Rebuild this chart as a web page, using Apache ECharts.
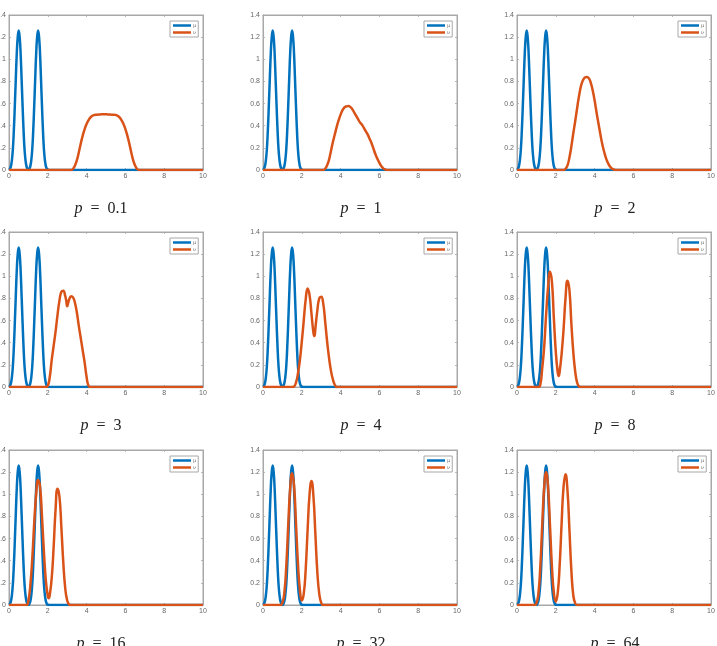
<!DOCTYPE html>
<html>
<head>
<meta charset="utf-8">
<script src="https://cdn.jsdelivr.net/npm/echarts@6/dist/echarts.min.js"></script>
<style>
html, body { margin: 0; padding: 0; background: #fff; }
#main { width: 717px; height: 646px; }
</style>
</head>
<body>
<div id="main"></div>
<script>
// p value shown under each panel
const pLabels = ['0.1', '1', '2', '3', '4', '8', '16', '32', '64'];

// mu is the same in every panel: two bumps at 0.5 and 1.5
const muCurve = [
  [0, 0], [0.05, 0.01], [0.1, 0.035], [0.15, 0.09], [0.2, 0.19], [0.25, 0.36], [0.3, 0.58],
  [0.35, 0.82], [0.4, 1.05], [0.45, 1.2], [0.5, 1.26], [0.55, 1.2], [0.6, 1.05], [0.65, 0.82],
  [0.7, 0.58], [0.75, 0.36], [0.8, 0.19], [0.85, 0.09], [0.9, 0.035], [0.95, 0.01], [1.0, 0],
  [1.05, 0.01], [1.1, 0.035], [1.15, 0.09], [1.2, 0.19], [1.25, 0.36], [1.3, 0.58], [1.35, 0.82],
  [1.4, 1.05], [1.45, 1.2], [1.5, 1.26], [1.55, 1.2], [1.6, 1.05], [1.65, 0.82], [1.7, 0.58],
  [1.75, 0.36], [1.8, 0.19], [1.85, 0.09], [1.9, 0.035], [1.95, 0.01], [2.0, 0], [2.1, 0], [10, 0]
];

// nu for each p
const nuP01 = [
  [0, 0], [3.1, 0], [3.2, 0], [3.3, 0.01], [3.4, 0.04], [3.5, 0.09], [3.6, 0.16], [3.7, 0.24],
  [3.8, 0.31], [3.9, 0.37], [4.0, 0.415], [4.1, 0.45], [4.2, 0.475], [4.3, 0.49], [4.4, 0.497],
  [4.5, 0.5], [4.7, 0.502], [4.9, 0.503], [5.1, 0.502], [5.3, 0.5], [5.4, 0.5], [5.5, 0.497],
  [5.6, 0.49], [5.7, 0.475], [5.8, 0.45], [5.9, 0.415], [6.0, 0.37], [6.1, 0.31], [6.2, 0.24],
  [6.3, 0.16], [6.4, 0.09], [6.5, 0.04], [6.6, 0.01], [6.7, 0], [6.8, 0], [10, 0]
];
const nuP1 = [
  [0, 0], [3.0, 0], [3.1, 0], [3.2, 0.01], [3.3, 0.04], [3.4, 0.09], [3.5, 0.17], [3.6, 0.25],
  [3.7, 0.32], [3.8, 0.39], [3.9, 0.45], [4.0, 0.5], [4.1, 0.54], [4.2, 0.565], [4.3, 0.575],
  [4.4, 0.578], [4.5, 0.57], [4.6, 0.55], [4.7, 0.52], [4.8, 0.49], [4.9, 0.46], [5.0, 0.43],
  [5.1, 0.41], [5.2, 0.38], [5.3, 0.35], [5.4, 0.32], [5.5, 0.28], [5.6, 0.24], [5.7, 0.19],
  [5.8, 0.14], [5.9, 0.1], [6.0, 0.065], [6.1, 0.035], [6.2, 0.015], [6.3, 0.005], [6.4, 0],
  [6.5, 0], [10, 0]
];
const nuP2 = [
  [0, 0], [2.3, 0], [2.4, 0], [2.5, 0.01], [2.6, 0.04], [2.7, 0.11], [2.8, 0.21], [2.9, 0.33],
  [3.0, 0.44], [3.1, 0.56], [3.2, 0.67], [3.3, 0.76], [3.4, 0.81], [3.5, 0.835], [3.6, 0.84],
  [3.7, 0.83], [3.8, 0.79], [3.9, 0.72], [4.0, 0.63], [4.1, 0.52], [4.2, 0.42], [4.3, 0.32],
  [4.4, 0.23], [4.5, 0.16], [4.6, 0.1], [4.7, 0.06], [4.8, 0.03], [4.9, 0.012], [5.0, 0.004],
  [5.1, 0], [5.2, 0], [10, 0]
];
const nuP3 = [
  [0, 0], [1.8, 0], [1.9, 0], [2.0, 0.01], [2.1, 0.09], [2.2, 0.24], [2.3, 0.37], [2.4, 0.5],
  [2.5, 0.65], [2.6, 0.78], [2.7, 0.86], [2.8, 0.87], [2.9, 0.82], [2.95, 0.78], [3.0, 0.73],
  [3.05, 0.76], [3.1, 0.79], [3.2, 0.82], [3.3, 0.81], [3.4, 0.76], [3.5, 0.67], [3.6, 0.55],
  [3.7, 0.44], [3.8, 0.33], [3.9, 0.22], [4.0, 0.09], [4.1, 0.01], [4.2, 0], [4.3, 0], [10, 0]
];
const nuP4 = [
  [0, 0], [1.4, 0], [1.5, 0], [1.6, 0.005], [1.7, 0.04], [1.8, 0.12], [1.9, 0.24], [2.0, 0.41],
  [2.1, 0.6], [2.2, 0.79], [2.3, 0.89], [2.4, 0.83], [2.5, 0.66], [2.6, 0.49], [2.65, 0.46],
  [2.7, 0.53], [2.8, 0.69], [2.9, 0.8], [3.0, 0.815], [3.1, 0.76], [3.2, 0.6], [3.3, 0.42],
  [3.4, 0.27], [3.5, 0.15], [3.6, 0.07], [3.7, 0.02], [3.8, 0], [3.9, 0], [10, 0]
];
const nuP8 = [
  [0, 0], [1.0, 0], [1.1, 0], [1.2, 0.02], [1.3, 0.17], [1.4, 0.36], [1.5, 0.65], [1.6, 0.9],
  [1.7, 1.04], [1.8, 0.95], [1.9, 0.62], [2.0, 0.32], [2.1, 0.13], [2.15, 0.1], [2.2, 0.14],
  [2.3, 0.3], [2.4, 0.52], [2.5, 0.8], [2.6, 0.96], [2.7, 0.88], [2.8, 0.58], [2.9, 0.32],
  [3.0, 0.14], [3.1, 0.04], [3.2, 0.005], [3.3, 0], [3.4, 0], [10, 0]
];
const nuP16 = [
  [0, 0], [0.8, 0], [0.9, 0], [1.0, 0.04], [1.1, 0.18], [1.2, 0.42], [1.3, 0.74], [1.4, 1.0],
  [1.5, 1.13], [1.6, 1.07], [1.7, 0.8], [1.8, 0.48], [1.9, 0.22], [2.0, 0.08], [2.05, 0.06],
  [2.1, 0.09], [2.2, 0.24], [2.3, 0.52], [2.4, 0.86], [2.5, 1.05], [2.6, 0.98], [2.7, 0.7],
  [2.8, 0.38], [2.9, 0.15], [3.0, 0.04], [3.1, 0.005], [3.2, 0], [3.3, 0], [10, 0]
];
const nuP32 = [
  [0, 0], [0.8, 0], [0.9, 0], [1.0, 0.02], [1.1, 0.11], [1.2, 0.35], [1.3, 0.72], [1.4, 1.05],
  [1.5, 1.19], [1.6, 1.08], [1.7, 0.74], [1.8, 0.38], [1.9, 0.14], [2.0, 0.04], [2.1, 0.1],
  [2.2, 0.32], [2.3, 0.68], [2.4, 1.0], [2.5, 1.12], [2.6, 0.98], [2.7, 0.64], [2.8, 0.3],
  [2.9, 0.1], [3.0, 0.02], [3.1, 0], [3.2, 0], [10, 0]
];
const nuP64 = [
  [0, 0], [0.8, 0], [0.9, 0], [1.0, 0.015], [1.1, 0.1], [1.2, 0.34], [1.3, 0.72], [1.4, 1.06],
  [1.5, 1.2], [1.6, 1.07], [1.7, 0.72], [1.8, 0.35], [1.9, 0.11], [2.0, 0.03], [2.1, 0.11],
  [2.2, 0.36], [2.3, 0.74], [2.4, 1.07], [2.5, 1.18], [2.6, 1.04], [2.7, 0.69], [2.8, 0.32],
  [2.9, 0.09], [3.0, 0.015], [3.1, 0], [3.2, 0], [10, 0]
];
const nuCurves = [nuP01, nuP1, nuP2, nuP3, nuP4, nuP8, nuP16, nuP32, nuP64];

const blue = '#0072BD';
const orange = '#D95319';
const boxColor = '#a8a8a8';
const labelColor = '#666';

// panel layout (px)
const colLeft = [9, 263, 517];
const rowTop = [15, 232, 450];
const plotW = 194, plotH = 155;
const titleX = [101, 361, 615];

let grids = [], xAxes = [], yAxes = [], series = [], legends = [], texts = [];

for (let i = 0; i < 9; i++) {
  let col = i % 3, row = Math.floor(i / 3);
  let left = colLeft[col], top = rowTop[row];
  grids.push({
    left: left, top: top, width: plotW, height: plotH,
    show: true, borderColor: boxColor, borderWidth: 1, backgroundColor: '#fff',
    containLabel: false, outerBoundsMode: 'none'
  });
  let tick = { show: true, inside: true, length: 2, lineStyle: { color: boxColor, width: 0.8 } };
  let line = { show: true, onZero: false, lineStyle: { color: boxColor, width: 1 } };
  xAxes.push({
    gridIndex: i, type: 'value', min: 0, max: 10, interval: 2, position: 'bottom',
    axisLine: line, axisTick: tick, splitLine: { show: false },
    axisLabel: { fontSize: 7, color: labelColor, margin: 3, fontFamily: 'Liberation Sans' }
  });
  xAxes.push({
    gridIndex: i, type: 'value', min: 0, max: 10, interval: 2, position: 'top',
    axisLine: line, axisTick: tick, splitLine: { show: false }, axisLabel: { show: false }
  });
  yAxes.push({
    gridIndex: i, type: 'value', min: 0, max: 1.4, interval: 0.2, position: 'left',
    axisLine: line, axisTick: tick, splitLine: { show: false },
    axisLabel: { fontSize: 7, color: labelColor, margin: 3, fontFamily: 'Liberation Sans' }
  });
  yAxes.push({
    gridIndex: i, type: 'value', min: 0, max: 1.4, interval: 0.2, position: 'right',
    axisLine: line, axisTick: tick, splitLine: { show: false }, axisLabel: { show: false }
  });

  series.push({
    name: 'μ', type: 'line', xAxisIndex: 2 * i, yAxisIndex: 2 * i,
    data: muCurve, smooth: 0.5, symbol: 'none', z: 2,
    lineStyle: { color: blue, width: 2.5 }, itemStyle: { color: blue }
  });
  series.push({
    name: 'ν', type: 'line', xAxisIndex: 2 * i, yAxisIndex: 2 * i,
    data: nuCurves[i], smooth: 0.5, symbol: 'none', z: 3,
    lineStyle: { color: orange, width: 2.5 }, itemStyle: { color: orange }
  });

  legends.push({
    data: ['μ', 'ν'], orient: 'vertical', selectedMode: false,
    left: left + 161, top: top + 6,
    icon: 'rect', itemWidth: 18, itemHeight: 2.5, itemGap: 2,
    padding: [2, 2, 2, 3],
    backgroundColor: '#fff', borderColor: boxColor, borderWidth: 1, borderRadius: 0,
    textStyle: { fontSize: 5, color: labelColor, fontFamily: 'DejaVu Serif', padding: [0, 0, 0, -3] }
  });

  texts.push({
    type: 'text', x: titleX[col], y: top + plotH + 39,
    style: {
      text: '{i|p}\u2002=\u2002' + pLabels[i],
      font: '16px "Liberation Serif"', fill: '#222',
      align: 'center', verticalAlign: 'middle',
      rich: { i: { fontStyle: 'italic', fontFamily: 'Liberation Serif', fontSize: 16, fill: '#222' } }
    }
  });
}

let chart = echarts.init(document.getElementById('main'));
chart.setOption({
  animation: false,
  backgroundColor: '#fff',
  grid: grids,
  xAxis: xAxes,
  yAxis: yAxes,
  legend: legends,
  series: series,
  graphic: texts
});
</script>
</body>
</html>
